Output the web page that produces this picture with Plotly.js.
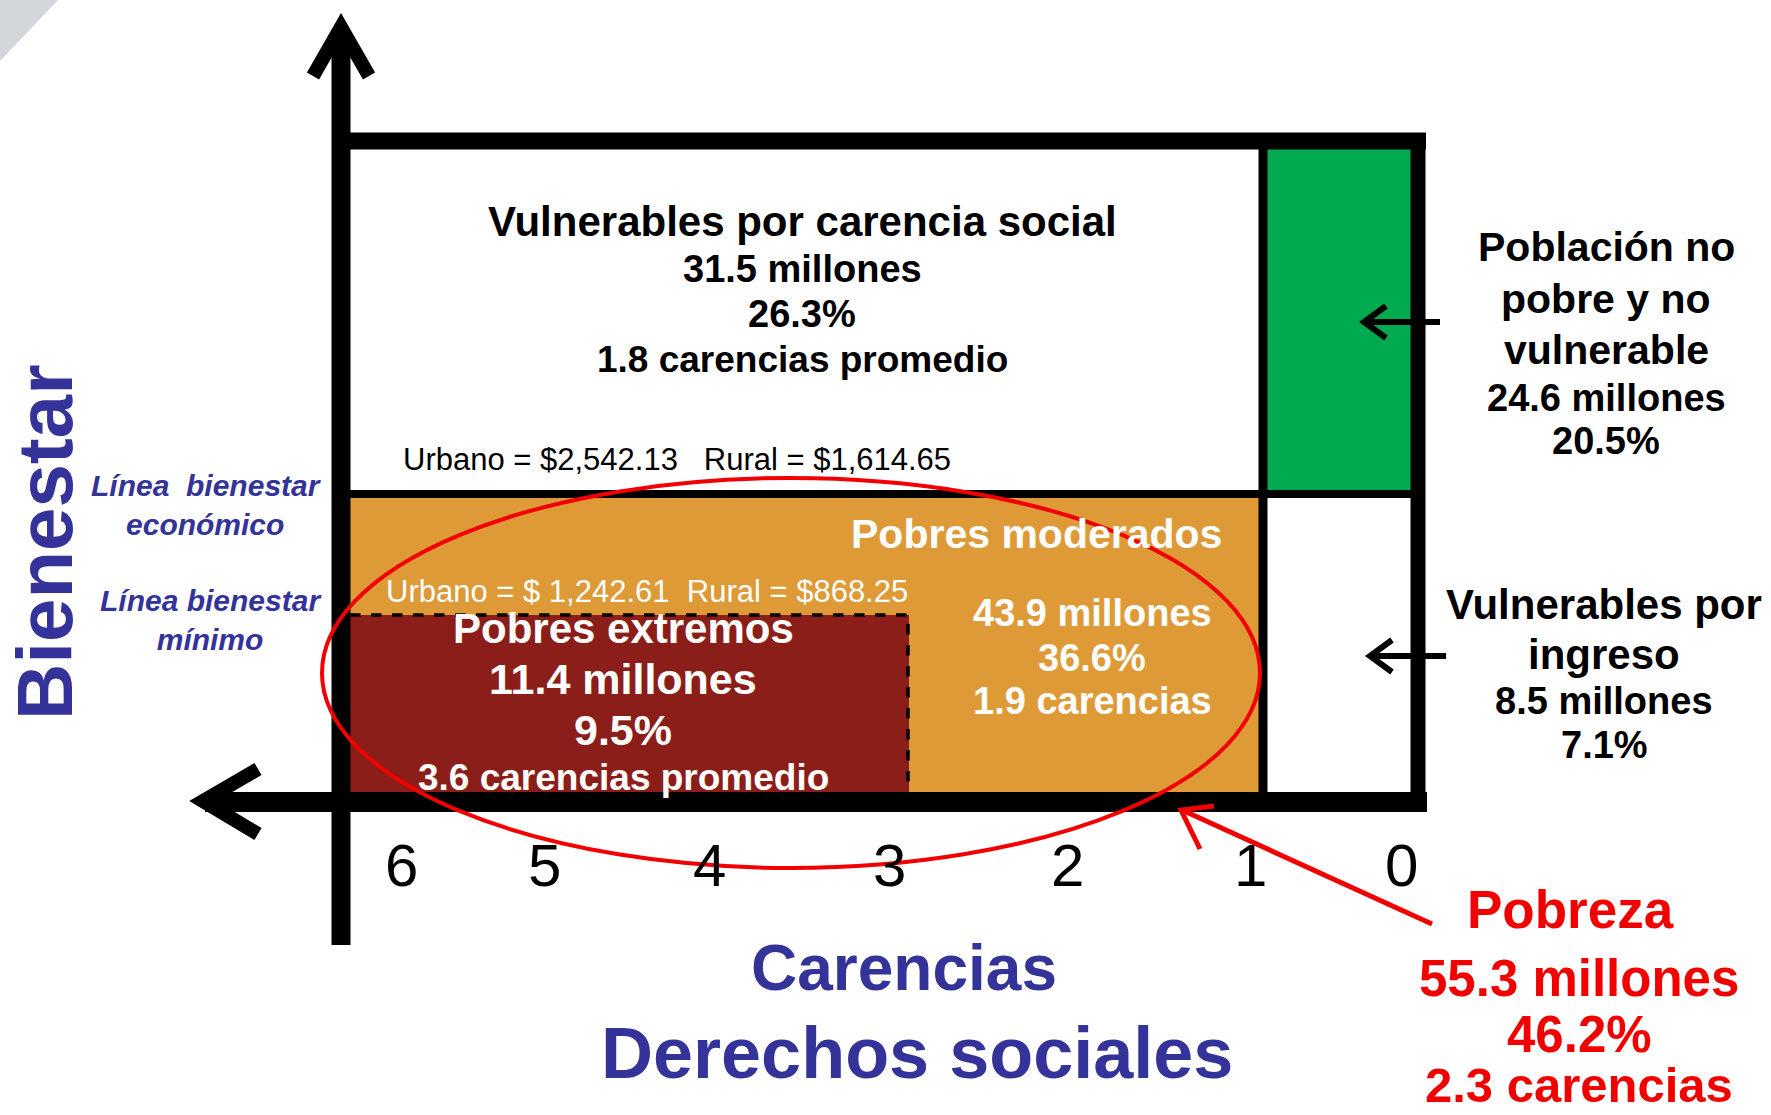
<!DOCTYPE html>
<html>
<head>
<meta charset="utf-8">
<script src="https://cdn.plot.ly/plotly-3.0.1.min.js"></script>
<style>html,body{margin:0;padding:0;background:#fff;}#chart{width:1771px;height:1115px;}</style>
</head>
<body>
<div id="chart"></div>
<script>
// ---------------- DATA ----------------
const grupos = ['Vulnerables por carencia social', 'Pobres moderados', 'Pobres extremos',
                'Población no pobre y no vulnerable', 'Vulnerables por ingreso', 'Pobreza'];
const millones   = [31.5, 43.9, 11.4, 24.6, 8.5, 55.3];
const porcentaje = [26.3, 36.6, 9.5, 20.5, 7.1, 46.2];
const carencias  = [1.8, 1.9, 3.6, null, null, 2.3];
const tickLabels = ['6', '5', '4', '3', '2', '1', '0'];
const lineas     = ['Línea\u00A0\u00A0bienestar<br>económico', 'Línea bienestar<br>mínimo'];
const urbano     = ['$2,542.13', '$ 1,242.61'];
const rural      = ['$1,614.65', '$868.25'];
const ejeX       = ['Carencias', 'Derechos sociales'];
const ejeY       = 'Bienestar';

// ---------------- LAYOUT POSITIONS (diagram pixel space) ----------------
const W = 1771, H = 1115;
const tickX = [401, 544, 709, 889, 1067, 1250, 1401];
const C = {black:'#000000', orange:'#DE9A36', dred:'#8B1E18', green:'#00AB4F', blue:'#333399', red:'#F20000', white:'#FFFFFF', gray:'#D3D6DA'};
const FB = 'Liberation Sans, Arial, sans-serif';

const shapes = [];
function rect(x0, y0, x1, y1, fill) {
  shapes.push({type:'rect', xref:'x', yref:'y', x0, y0, x1, y1, fillcolor:fill, line:{width:0}, layer:'below'});
}
function seg(x0, y0, x1, y1, w, color, dash) {
  shapes.push({type:'line', xref:'x', yref:'y', x0, y0, x1, y1, line:{color:color||C.black, width:w, dash:dash||'solid'}});
}
function path(d, w, color, fill) {
  shapes.push({type:'path', xref:'x', yref:'y', path:d, line:{color:color||C.black, width:w}, fillcolor:fill||'rgba(0,0,0,0)'});
}

// corner decoration
path('M0,0 L58,0 L0,61 Z', 0, C.gray, C.gray);
// regions
rect(350, 498, 1259, 793, C.orange);
rect(350, 615, 909, 793, C.dred);
rect(1264, 149, 1412, 490, C.green);
// dashed border of extreme poverty
path('M350,615 L908,615 L908,793', 3.5, C.black);
shapes[shapes.length-1].line.dash = 'dash';
// inner lines
seg(350, 494, 1418, 494, 8);
seg(1263, 141, 1263, 802, 9);
// outer box
seg(333, 141, 1426, 141, 17);
seg(1418, 133, 1418, 812, 15);
seg(205, 802, 1427, 802, 20);
// vertical axis + arrow
seg(341, 30, 341, 945, 19);
path('M313,76 L341,27 L369,76', 14);
// horizontal axis arrow head
path('M258,769 L203,801 L258,834', 14);
// small black pointer arrows
seg(1366, 322, 1440, 322, 6);
path('M1386,306 L1364,322 L1386,338', 6);
seg(1372, 656, 1446, 656, 6);
path('M1392,640 L1370,656 L1392,672', 6);
// red ellipse
shapes.push({type:'circle', xref:'x', yref:'y', x0:322, y0:478, x1:1260, y1:868, line:{color:C.red, width:4}, fillcolor:'rgba(0,0,0,0)'});
// red arrow to poverty
seg(1432, 924, 1182, 810, 5, C.red);
path('M1214,806 L1181,810 L1200,849', 5, C.red);

// ---------------- TEXT ----------------
const ann = [];
function txt(text, x, y, size, color, o) {
  o = o || {};
  ann.push(Object.assign({xref:'x', yref:'y', x, y, text, showarrow:false,
    xanchor:'center', yanchor:'middle',
    font:{family:FB, size, color, weight: o.weight===undefined ? 'bold' : o.weight, style:o.style||'normal'}}, o.extra||{}));
}
const f1 = v => v.toFixed(1);

// 0: Vulnerables por carencia social
txt(grupos[0], 802, 221, 42, C.black);
txt(f1(millones[0]) + ' millones', 802, 269, 38, C.black);
txt(f1(porcentaje[0]) + '%', 802, 314, 38, C.black);
txt(f1(carencias[0]) + ' carencias promedio', 802, 359, 37, C.black);
txt('Urbano = ' + urbano[0] + '\u00A0\u00A0\u00A0Rural = ' + rural[0], 401, 459, 31, C.black, {weight:'normal', extra:{xanchor:'left'}});

// 1: Pobres moderados
txt(grupos[1], 1036, 534, 41, C.white);
txt('Urbano = ' + urbano[1] + '\u00A0\u00A0Rural = ' + rural[1], 384, 591, 31, C.white, {weight:'normal', extra:{xanchor:'left'}});
txt(f1(millones[1]) + ' millones', 1092, 613, 38, C.white);
txt(f1(porcentaje[1]) + '%', 1092, 658, 38, C.white);
txt(f1(carencias[1]) + ' carencias', 1092, 701, 38, C.white);

// 2: Pobres extremos
txt(grupos[2], 623, 628, 42, C.white);
txt(f1(millones[2]) + ' millones', 623, 679, 43, C.white);
txt(f1(porcentaje[2]) + '%', 623, 730, 43, C.white);
txt(f1(carencias[2]) + ' carencias promedio', 623, 777, 37, C.white);

// 3: No pobre y no vulnerable
txt('Población no', 1606, 247, 41, C.black);
txt('pobre y no', 1606, 299, 41, C.black);
txt('vulnerable', 1606, 350, 41, C.black);
txt(f1(millones[3]) + ' millones', 1606, 398, 38, C.black);
txt(f1(porcentaje[3]) + '%', 1606, 441, 38, C.black);

// 4: Vulnerables por ingreso
txt('Vulnerables por', 1604, 604, 42, C.black);
txt('ingreso', 1604, 654, 42, C.black);
txt(f1(millones[4]) + ' millones', 1604, 701, 38, C.black);
txt(f1(porcentaje[4]) + '%', 1604, 745, 38, C.black);

// 5: Pobreza
txt(grupos[5], 1570, 909, 53, C.red);
txt(f1(millones[5]) + ' millones', 1579, 978, 51, C.red);
txt(f1(porcentaje[5]) + '%', 1579, 1034, 51, C.red);
txt(f1(carencias[5]) + ' carencias', 1579, 1085, 49, C.red);

// axis titles
txt(ejeX[0], 904, 968, 64, C.blue);
txt(ejeX[1], 917, 1053, 72, C.blue);
txt(ejeY, 45, 542, 78, C.blue, {extra:{textangle:-90}});

// welfare lines
txt(lineas[0], 206, 505, 30, C.blue, {style:'italic'});
txt(lineas[1], 211, 620, 30, C.blue, {style:'italic'});

// tick labels
tickLabels.forEach((t, i) => txt(t, tickX[i], 865, 60, C.black, {weight:'normal'}));

const layout = {
  width: W, height: H,
  margin: {l:0, r:0, t:0, b:0, pad:0},
  paper_bgcolor: '#FFFFFF', plot_bgcolor: '#FFFFFF',
  showlegend: false,
  xaxis: {range:[0, W], visible:false, fixedrange:true},
  yaxis: {range:[H, 0], visible:false, fixedrange:true},
  shapes: shapes,
  annotations: ann
};
Plotly.newPlot('chart', [], layout, {staticPlot:true, displayModeBar:false});
</script>
</body>
</html>
